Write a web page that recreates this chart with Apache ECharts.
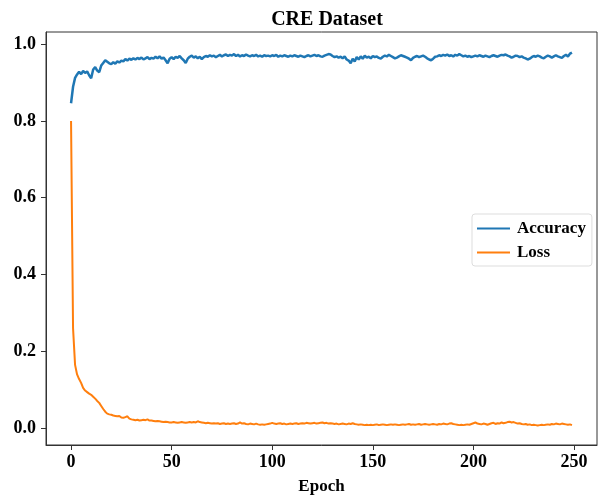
<!DOCTYPE html>
<html>
<head>
<meta charset="utf-8">
<script src="https://cdn.jsdelivr.net/npm/echarts@6/dist/echarts.min.js"></script>
<style>html,body{margin:0;padding:0;background:#fff}#c{width:606px;height:500px}</style>
</head>
<body>
<div id="c"></div>
<script>
var titleText = 'CRE Dataset';
var xName = 'Epoch';
var seriesNames = ['Accuracy', 'Loss'];
var xTicks = [0, 50, 100, 150, 200, 250];
var yTicks = [0.0, 0.2, 0.4, 0.6, 0.8, 1.0];

var accuracy = [
0.846,0.889,0.912,0.921,0.928,0.922,0.930,0.925,0.929,0.919,
0.911,0.934,0.940,0.931,0.927,0.944,0.951,0.958,0.954,0.950,
0.948,0.953,0.949,0.955,0.952,0.957,0.955,0.961,0.957,0.962,
0.959,0.963,0.960,0.964,0.961,0.965,0.960,0.963,0.966,0.961,
0.964,0.962,0.967,0.963,0.968,0.962,0.965,0.958,0.950,0.962,
0.966,0.961,0.967,0.964,0.969,0.963,0.958,0.951,0.962,0.967,
0.970,0.965,0.968,0.963,0.967,0.961,0.966,0.969,0.967,0.971,
0.968,0.970,0.966,0.969,0.972,0.968,0.971,0.973,0.969,0.972,
0.970,0.974,0.969,0.972,0.968,0.971,0.969,0.973,0.970,0.968,
0.971,0.969,0.972,0.968,0.970,0.967,0.971,0.969,0.970,0.968,
0.971,0.969,0.972,0.967,0.970,0.968,0.971,0.969,0.967,0.970,
0.968,0.971,0.969,0.967,0.970,0.968,0.966,0.969,0.971,0.968,
0.970,0.972,0.969,0.971,0.968,0.967,0.970,0.972,0.974,0.973,
0.969,0.966,0.968,0.965,0.967,0.963,0.968,0.960,0.957,0.950,
0.962,0.955,0.966,0.960,0.968,0.962,0.970,0.965,0.967,0.963,
0.969,0.966,0.968,0.964,0.962,0.967,0.970,0.968,0.972,0.969,
0.966,0.963,0.965,0.968,0.971,0.969,0.967,0.965,0.962,0.958,
0.964,0.967,0.969,0.966,0.968,0.970,0.967,0.963,0.960,0.958,
0.962,0.967,0.968,0.971,0.969,0.972,0.970,0.973,0.969,0.971,
0.968,0.972,0.970,0.974,0.971,0.968,0.970,0.967,0.969,0.966,
0.968,0.970,0.968,0.971,0.969,0.967,0.970,0.968,0.966,0.969,
0.971,0.969,0.967,0.970,0.972,0.971,0.973,0.970,0.968,0.965,
0.967,0.970,0.969,0.966,0.968,0.965,0.963,0.960,0.962,0.966,
0.969,0.967,0.970,0.968,0.965,0.963,0.967,0.970,0.968,0.965,
0.968,0.971,0.968,0.966,0.964,0.969,0.972,0.968,0.975,0.978
];

var loss = [
0.800,0.260,0.165,0.140,0.128,0.118,0.105,0.098,0.094,0.090,
0.087,0.082,0.077,0.071,0.066,0.058,0.050,0.043,0.038,0.036,
0.035,0.033,0.032,0.031,0.032,0.028,0.027,0.029,0.031,0.025,
0.023,0.022,0.021,0.022,0.020,0.021,0.022,0.021,0.023,0.020,
0.020,0.019,0.018,0.019,0.018,0.017,0.016,0.017,0.016,0.015,
0.015,0.016,0.015,0.014,0.015,0.016,0.015,0.014,0.015,0.016,
0.015,0.016,0.015,0.018,0.016,0.015,0.014,0.013,0.014,0.013,
0.012,0.013,0.012,0.013,0.011,0.012,0.013,0.011,0.012,0.011,
0.012,0.013,0.011,0.012,0.015,0.012,0.013,0.011,0.010,0.012,
0.011,0.010,0.012,0.010,0.009,0.010,0.009,0.010,0.011,0.012,
0.014,0.012,0.011,0.012,0.013,0.011,0.012,0.010,0.011,0.012,
0.011,0.012,0.013,0.011,0.012,0.013,0.012,0.014,0.013,0.012,
0.013,0.014,0.012,0.013,0.014,0.015,0.013,0.014,0.012,0.013,
0.012,0.011,0.012,0.010,0.011,0.012,0.011,0.010,0.012,0.011,
0.013,0.011,0.010,0.009,0.010,0.009,0.008,0.009,0.008,0.009,
0.008,0.009,0.010,0.008,0.009,0.010,0.009,0.008,0.009,0.010,
0.009,0.010,0.009,0.008,0.009,0.010,0.009,0.010,0.011,0.009,
0.010,0.009,0.010,0.011,0.009,0.010,0.011,0.010,0.009,0.010,
0.011,0.010,0.009,0.011,0.010,0.012,0.011,0.010,0.012,0.013,
0.011,0.010,0.009,0.008,0.009,0.008,0.009,0.010,0.009,0.011,
0.013,0.015,0.012,0.011,0.010,0.012,0.011,0.009,0.011,0.013,
0.014,0.011,0.013,0.012,0.015,0.013,0.014,0.016,0.017,0.015,
0.016,0.014,0.012,0.013,0.011,0.010,0.011,0.009,0.010,0.008,
0.009,0.008,0.007,0.008,0.009,0.008,0.009,0.010,0.009,0.011,
0.010,0.012,0.011,0.010,0.012,0.011,0.010,0.009,0.010,0.008
];

function pairs(arr){ return arr.map(function(v,i){ return [i, v]; }); }

var font = '"Liberation Serif", "Times New Roman", serif';
var chart = echarts.init(document.getElementById('c'), null, {renderer:'canvas'});
chart.setOption({
  animation: false,
  backgroundColor: '#fff',
  title: {
    text: titleText, left: 322, textAlign: 'center', top: 5,
    textStyle: {fontFamily: font, fontWeight: 'bold', fontSize: 20, color: '#000'}
  },
  grid: {left: 46, right: 9, top: 32, bottom: 55, show: true, borderColor: '#333', borderWidth: 1,
    backgroundColor: 'transparent', containLabel: false, outerBoundsMode: 'none'},
  legend: {
    orient: 'vertical', left: 472, top: 214,
    padding: [6, 6, 5, 5], itemGap: 7, itemWidth: 33, itemHeight: 2,
    icon: 'rect',
    borderColor: '#ddd', borderWidth: 1, borderRadius: 3, backgroundColor: '#fff',
    textStyle: {fontFamily: font, fontWeight: 'bold', fontSize: 17, color: '#000', lineHeight: 17, padding: [0,0,0,2]},
    data: seriesNames
  },
  xAxis: {
    type: 'value', min: -12.45, max: 261.45,
    name: xName, nameLocation: 'middle', nameGap: 33,
    nameTextStyle: {fontFamily: font, fontWeight: 'bold', fontSize: 17, color: '#000'},
    axisLine: {show: true, onZero: false, lineStyle: {color: '#333', width: 1}},
    axisTick: {show: true, length: 5, inside: false, customValues: xTicks, lineStyle: {color: '#333'}},
    axisLabel: {customValues: xTicks, margin: 8, fontFamily: font, fontWeight: 'bold', fontSize: 18, color: '#000'},
    splitLine: {show: false}
  },
  yAxis: {
    type: 'value', min: -0.0437, max: 1.0315,
    axisLine: {show: true, onZero: false, lineStyle: {color: '#333', width: 1}},
    axisTick: {show: true, length: 5, inside: false, customValues: yTicks, lineStyle: {color: '#333'}},
    axisLabel: {customValues: yTicks, margin: 10, fontFamily: font, fontWeight: 'bold', fontSize: 18, color: '#000',
      formatter: function(v){ return v.toFixed(1); }},
    splitLine: {show: false}
  },
  series: [
    {name: seriesNames[0], type: 'line', data: pairs(accuracy), showSymbol: false, symbol: 'none',
     lineStyle: {color: '#1f77b4', width: 2.5}, itemStyle: {color: '#1f77b4'}},
    {name: seriesNames[1], type: 'line', data: pairs(loss), showSymbol: false, symbol: 'none',
     lineStyle: {color: '#ff7f0e', width: 2}, itemStyle: {color: '#ff7f0e'}}
  ]
});
</script>
</body>
</html>
